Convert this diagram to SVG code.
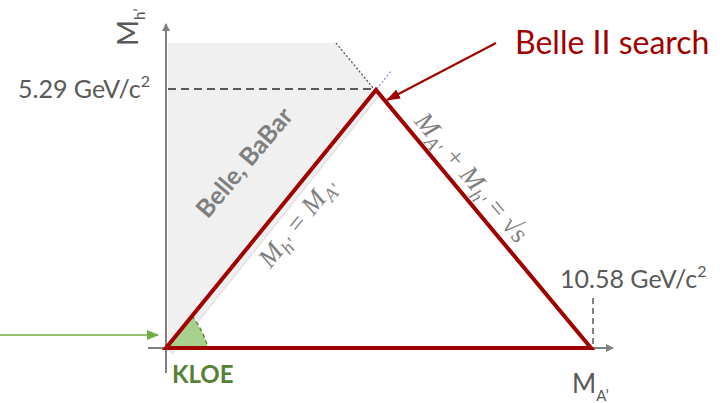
<svg xmlns="http://www.w3.org/2000/svg" width="728" height="403" viewBox="0 0 728 403">
<defs>
<style>
.lbl{font-family:Lato,"Liberation Sans",sans-serif;fill:#595959}
.math{font-family:"Liberation Serif",serif;font-style:italic;fill:#7f7f7f;font-size:27px}
.axis{stroke:#808080;stroke-width:2;fill:none}
</style>
<marker id="ag" markerWidth="8" markerHeight="8" refX="7" refY="4" orient="auto" markerUnits="userSpaceOnUse">
<path d="M0,0 L8,4 L0,8 z" fill="#808080"/>
</marker>
<marker id="ar" markerWidth="14" markerHeight="10" refX="13" refY="5" orient="auto" markerUnits="userSpaceOnUse">
<path d="M0,0 L14,5 L0,10 z" fill="#a00000"/>
</marker>
<marker id="agr" markerWidth="12" markerHeight="10" refX="11" refY="5" orient="auto" markerUnits="userSpaceOnUse">
<path d="M0,0 L12,5 L0,10 z" fill="#70ad47"/>
</marker>
</defs>
<rect width="728" height="403" fill="#ffffff"/>

<g id="belle-babar-region">
<polygon points="168,43 336,43 374,89 380,94 172,354 168,351" fill="#f0f0f0"/>
<line x1="380" y1="94" x2="172" y2="354" stroke="#e2e2e2" stroke-width="1.5"/>
<line x1="336" y1="43" x2="374" y2="89" stroke="#555555" stroke-width="1.3" stroke-dasharray="2,2"/>
<line x1="377" y1="89" x2="391" y2="71" stroke="#8a7fd6" stroke-width="1.2" stroke-dasharray="2,2"/>
<text x="251" y="168" transform="rotate(-50 251 168)" text-anchor="middle" font-family="Lato,'Liberation Sans',sans-serif" font-size="25" font-weight="bold" fill="#7f7f7f">Belle, BaBar</text>
</g>

<g id="kloe-region">
<path d="M166,348 L192,316 Q203,330 208,348 Z" fill="#a9d18e"/>
<path d="M192,316 Q203,330 208,348" fill="none" stroke="#548235" stroke-width="1.3" stroke-dasharray="4,3"/>
<text x="172" y="383" font-family="Lato,'Liberation Sans',sans-serif" font-weight="bold" font-size="24" fill="#548235">KLOE</text>
</g>

<g id="axes">
<line class="axis" x1="166" y1="373" x2="166" y2="24" marker-end="url(#ag)"/>
<line class="axis" x1="148" y1="348" x2="613" y2="348" marker-end="url(#ag)"/>
<text class="lbl" transform="translate(138,46) rotate(-90)" font-size="28">M<tspan font-size="15" dy="7">h’</tspan></text>
<text class="lbl" x="572" y="393" font-size="26">M<tspan font-size="15" dy="8">A’</tspan></text>
</g>

<g id="markers">
<line x1="168" y1="89" x2="374" y2="89" stroke="#595959" stroke-width="2" stroke-dasharray="8,5"/>
<text class="lbl" x="18" y="98" font-size="25">5.29 GeV/c<tspan font-size="16" dy="-11">2</tspan></text>
<line x1="593" y1="298" x2="593" y2="347" stroke="#595959" stroke-width="1.5" stroke-dasharray="6,4"/>
<text class="lbl" x="560" y="288" font-size="25">10.58 GeV/c<tspan font-size="16" dy="-11">2</tspan></text>
</g>

<g id="triangle">
<polygon points="166,348 376,90 591,348" fill="none" stroke="#a00000" stroke-width="4" stroke-linejoin="miter"/>
<text class="math" x="304" y="228" text-anchor="middle" transform="rotate(-51 304 228)">M<tspan font-size="19" dy="6">h′</tspan><tspan dy="-6"> = M</tspan><tspan font-size="19" dy="6">A′</tspan></text>
<text class="math" x="465" y="183" text-anchor="middle" transform="rotate(50 465 183)">M<tspan font-size="19" dy="6">A′</tspan><tspan dy="-6"> + M</tspan><tspan font-size="19" dy="6">h′</tspan><tspan dy="-6" style="font-style:normal"> = √s</tspan></text>
</g>

<g id="belle2-label">
<text x="515" y="54" font-family="Lato,'Liberation Sans',sans-serif" font-size="32" fill="#a00000">Belle II search</text>
</g>

<g id="connectors">
<line x1="496" y1="43" x2="387" y2="100" stroke="#a00000" stroke-width="2" marker-end="url(#ar)"/>
<line x1="0" y1="335" x2="158" y2="335" stroke="#70ad47" stroke-width="1.5" marker-end="url(#agr)"/>
</g>
</svg>
